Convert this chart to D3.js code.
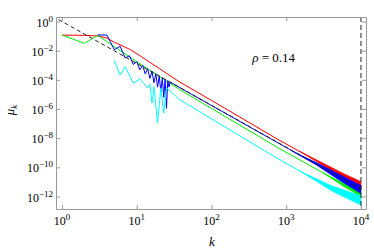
<!DOCTYPE html>
<html>
<head>
<meta charset="utf-8">
<script src="https://cdn.jsdelivr.net/npm/d3@7"></script>
<style>
body { margin: 0; background: #fff; }
text { font-family: "Liberation Serif", "Times New Roman", Times, serif; fill: #000; }
</style>
</head>
<body>
<svg width="374" height="251"></svg>
<script>
// values (k, mu)
var redK  = [1, 2, 3, 4, 5, 6, 8, 10, 15, 20, 37, 100, 800, 3000, 10000];
var redMu = [0.1175, 0.112, 0.102, 0.0741, 0.038, 0.025, 0.0126, 0.00631, 1.58e-3, 6.0e-4, 7.4e-5, 3.9e-6, 7.4e-9, 1.78e-10, 6.3e-12];

var greenK  = [1, 2, 3, 4, 5, 6, 8, 10, 15, 20, 37, 100, 800, 3000, 10000];
var greenMu = [0.1175, 0.0316, 0.112, 0.0417, 0.0191, 0.0102, 0.0038, 1.74e-3, 4.57e-4, 1.78e-4, 2.24e-5, 1.1e-6, 2.0e-9, 4.68e-11, 1.48e-12];

var blueK  = [3, 4, 5, 6, 7, 8, 9, 10, 11, 12, 13, 14, 15, 16, 17, 18, 19, 20, 21, 22, 23, 24, 25, 26, 27, 28, 40, 100, 1000, 10000];
var blueMu = [0.12, 0.1175, 0.01175, 0.02, 3.16e-3, 4.47e-3, 1.12e-3, 1.78e-3, 5.0e-4, 1.0e-3, 2.51e-4, 5.62e-4,
              1.26e-4, 3.8e-4, 6.3e-5, 2.63e-4, 3.16e-5, 1.9e-4, 1.58e-5, 1.45e-4, 6.3e-6, 1.12e-4, 1.12e-6, 8.9e-5,
              3.16e-5, 7.1e-5, 2.45e-5, 1.74e-6, 2.29e-9, 3.0e-12];

var cyanK  = [5, 6, 7, 9, 11, 14, 15, 16, 17, 19, 21, 23, 25, 37, 200, 800, 2000, 5000, 10000];
var cyanMu = [2.04e-3, 2.14e-4, 7.9e-4, 5.75e-5, 1.15e-4, 2.75e-5, 5.1e-5, 2.57e-6, 3.4e-5, 1.1e-7, 2.75e-5, 5.25e-7,
              2.95e-5, 4.57e-6, 2.51e-8, 3.55e-10, 2.51e-11, 2.51e-12, 6.3e-13];

// spread of the noisy tails (upper / lower edge)
var redBandK  = [1500, 3000, 6000, 10000];
var redBandHi = [1.29e-9, 2.14e-10, 3.55e-11, 1.05e-11];
var redBandLo = [1.29e-9, 1.48e-10, 1.78e-11, 3.8e-12];

var greenBandK  = [3000, 6000, 10000];
var greenBandHi = [4.68e-11, 7.4e-12, 2.09e-12];
var greenBandLo = [4.68e-11, 4.47e-12, 1.0e-12];

var blueBandK  = [1200, 2500, 5000, 10000];
var blueBandHi = [1.3e-9, 2.2e-10, 3.55e-11, 5.75e-12];
var blueBandLo = [1.3e-9, 1.5e-10, 1.41e-11, 1.58e-12];

var cyanBandK  = [1500, 4000, 10000];
var cyanBandHi = [5.75e-11, 5.6e-12, 1.12e-12];
var cyanBandLo = [5.75e-11, 2.5e-12, 2.5e-13];

// dashed power law reference
var dashK  = [0.9, 10000];
var dashMu = [1.35, 3.2e-12];

var xTicks = [1, 10, 100, 1000, 10000];
var xExp   = ["0", "1", "2", "3", "4"];
var yTicks = [1, 1e-2, 1e-4, 1e-6, 1e-8, 1e-10, 1e-12];
var yExp   = ["0", "\u22122", "\u22124", "\u22126", "\u22128", "\u221210", "\u221212"];

var plotL = 56, plotR = 366, plotT = 17, plotB = 209;
var frameColor = "#9a9a9a";

var svg = d3.select("svg");

var x = d3.scaleLog()
	.domain([Math.pow(10, -0.08), Math.pow(10, 4.067)])
	.range([plotL, plotR]);
var y = d3.scaleLog()
	.domain([Math.pow(10, -12.857), Math.pow(10, 0.309)])
	.range([plotB, plotT]);

svg.append("defs").append("clipPath")
	.attr("id", "plot")
	.append("rect")
	.attr("x", plotL).attr("y", plotT)
	.attr("width", plotR - plotL).attr("height", plotB - plotT);

var plot = svg.append("g").attr("clip-path", "url(#plot)");

var line = d3.line()
	.x(function(d) { return x(d[0]); })
	.y(function(d) { return y(d[1]); });

var band = d3.area()
	.x(function(d) { return x(d[0]); })
	.y0(function(d) { return y(d[2]); })
	.y1(function(d) { return y(d[1]); });

var series = [
	{ color: "#ff0000", k: redK, mu: redMu, bk: redBandK, hi: redBandHi, lo: redBandLo },
	{ color: "#00ee00", k: greenK, mu: greenMu, bk: greenBandK, hi: greenBandHi, lo: greenBandLo },
	{ color: "#0000ff", k: blueK, mu: blueMu, bk: blueBandK, hi: blueBandHi, lo: blueBandLo },
	{ color: "#00ffff", k: cyanK, mu: cyanMu, bk: cyanBandK, hi: cyanBandHi, lo: cyanBandLo }
];

series.forEach(function(s) {
	plot.append("path")
		.attr("d", band(d3.zip(s.bk, s.hi, s.lo)))
		.attr("fill", s.color)
		.attr("stroke", s.color)
		.attr("stroke-width", 0.5);
	plot.append("path")
		.attr("d", line(d3.zip(s.k, s.mu)))
		.attr("fill", "none")
		.attr("stroke", s.color)
		.attr("stroke-width", 1);
});

plot.append("path")
	.attr("d", line(d3.zip(dashK, dashMu)))
	.attr("fill", "none")
	.attr("stroke", "#222")
	.attr("stroke-width", 1)
	.attr("stroke-dasharray", "4,3");

plot.append("line")
	.attr("x1", x(10000)).attr("x2", x(10000))
	.attr("y1", plotT).attr("y2", plotB)
	.attr("stroke", "#222")
	.attr("stroke-width", 1)
	.attr("stroke-dasharray", "5,3");

// frame with inward ticks on all sides
function styleAxis(g) {
	g.selectAll("path, line").attr("stroke", frameColor);
}
svg.append("g").attr("transform", "translate(0," + plotB + ")")
	.call(d3.axisBottom(x).tickValues(xTicks).tickSizeInner(-4).tickSizeOuter(0).tickFormat(""))
	.call(styleAxis);
svg.append("g").attr("transform", "translate(0," + plotT + ")")
	.call(d3.axisTop(x).tickValues(xTicks).tickSizeInner(-4).tickSizeOuter(0).tickFormat(""))
	.call(styleAxis);
svg.append("g").attr("transform", "translate(" + plotL + ",0)")
	.call(d3.axisLeft(y).tickValues(yTicks).tickSizeInner(-4).tickSizeOuter(0).tickFormat(""))
	.call(styleAxis);
svg.append("g").attr("transform", "translate(" + plotR + ",0)")
	.call(d3.axisRight(y).tickValues(yTicks).tickSizeInner(-4).tickSizeOuter(0).tickFormat(""))
	.call(styleAxis);

// tick labels as 10^n
var xl = svg.append("g").selectAll("text")
	.data(xTicks)
	.enter()
	.append("text")
	.attr("x", function(d) { return x(d); })
	.attr("y", 225)
	.attr("text-anchor", "middle")
	.attr("font-size", 12);
xl.append("tspan").text("10");
xl.append("tspan")
	.attr("dy", -5)
	.attr("font-size", 9)
	.text(function(d, i) { return xExp[i]; });

var yl = svg.append("g").selectAll("text")
	.data(yTicks)
	.enter()
	.append("text")
	.attr("x", 53)
	.attr("y", function(d) { return y(d) + 5; })
	.attr("text-anchor", "end")
	.attr("font-size", 12);
yl.append("tspan").text("10");
yl.append("tspan")
	.attr("dy", -5)
	.attr("font-size", 9)
	.text(function(d, i) { return yExp[i]; });

svg.append("text")
	.attr("x", (plotL + plotR) / 2 + 1)
	.attr("y", 246)
	.attr("text-anchor", "middle")
	.attr("font-size", 13)
	.attr("font-style", "italic")
	.text("k");

var ylab = svg.append("text")
	.attr("transform", "translate(14,110) rotate(-90)")
	.attr("text-anchor", "middle")
	.attr("font-size", 13)
	.attr("font-style", "italic");
ylab.append("tspan").text("\u03bc");
ylab.append("tspan").attr("dy", 3).attr("font-size", 9).text("k");

var rho = svg.append("text")
	.attr("x", 295)
	.attr("y", 62)
	.attr("text-anchor", "end")
	.attr("font-size", 13);
rho.append("tspan").attr("font-style", "italic").text("\u03c1");
rho.append("tspan").text(" = 0.14");
</script>
</body>
</html>
